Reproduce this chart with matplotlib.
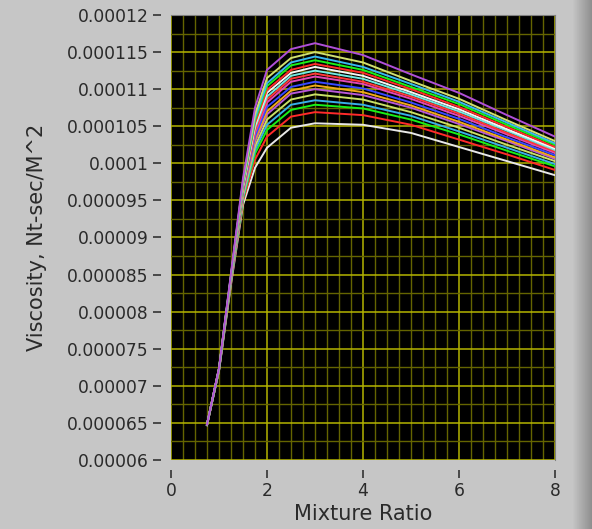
import numpy as np
import matplotlib
matplotlib.use("Agg")
import matplotlib.pyplot as plt
from matplotlib.ticker import MultipleLocator

# Mixture ratio sample points
mixture_ratio = [0.75, 1.0, 1.25, 1.5, 1.75, 2.0, 2.5, 3.0, 4.0, 5.0, 6.0, 7.0, 8.0]

# Viscosity curves, in units of 1e-5 Nt-sec/M^2 (bottom curve first)
visc_01 = [6.47, 7.20, 8.37, 9.44, 9.94, 10.21, 10.48, 10.54, 10.52, 10.41, 10.22, 10.03, 9.84]
visc_02 = [6.47, 7.21, 8.39, 9.49, 10.05, 10.36, 10.63, 10.69, 10.65, 10.52, 10.32, 10.12, 9.91]
visc_03 = [6.47, 7.21, 8.41, 9.52, 10.13, 10.45, 10.72, 10.79, 10.74, 10.59, 10.39, 10.17, 9.96]
visc_04 = [6.47, 7.21, 8.41, 9.54, 10.18, 10.52, 10.79, 10.85, 10.79, 10.64, 10.43, 10.21, 9.99]
visc_05 = [6.47, 7.21, 8.42, 9.57, 10.23, 10.59, 10.86, 10.93, 10.86, 10.69, 10.48, 10.25, 10.03]
visc_06 = [6.47, 7.22, 8.43, 9.60, 10.29, 10.66, 10.94, 11.00, 10.92, 10.75, 10.53, 10.30, 10.06]
visc_07 = [6.47, 7.22, 8.44, 9.61, 10.32, 10.70, 10.98, 11.05, 10.96, 10.78, 10.56, 10.32, 10.08]
visc_08 = [6.47, 7.22, 8.45, 9.63, 10.36, 10.76, 11.03, 11.10, 11.01, 10.82, 10.60, 10.35, 10.11]
visc_09 = [6.48, 7.22, 8.46, 9.65, 10.41, 10.82, 11.10, 11.17, 11.07, 10.87, 10.64, 10.39, 10.14]
visc_10 = [6.48, 7.22, 8.46, 9.66, 10.44, 10.86, 11.14, 11.21, 11.10, 10.90, 10.67, 10.41, 10.16]
visc_11 = [6.48, 7.23, 8.47, 9.68, 10.48, 10.90, 11.18, 11.25, 11.14, 10.93, 10.70, 10.44, 10.18]
visc_12 = [6.48, 7.23, 8.47, 9.69, 10.51, 10.95, 11.22, 11.30, 11.18, 10.96, 10.73, 10.46, 10.20]
visc_13 = [6.48, 7.23, 8.48, 9.71, 10.54, 10.99, 11.26, 11.34, 11.22, 11.00, 10.76, 10.49, 10.22]
visc_14 = [6.48, 7.23, 8.49, 9.72, 10.58, 11.04, 11.32, 11.39, 11.26, 11.03, 10.80, 10.52, 10.25]
visc_15 = [6.48, 7.23, 8.49, 9.74, 10.61, 11.08, 11.36, 11.44, 11.30, 11.07, 10.83, 10.55, 10.27]
visc_16 = [6.48, 7.24, 8.50, 9.76, 10.66, 11.15, 11.42, 11.50, 11.36, 11.11, 10.87, 10.58, 10.30]
visc_17 = [6.48, 7.24, 8.52, 9.80, 10.75, 11.26, 11.54, 11.62, 11.46, 11.20, 10.95, 10.65, 10.36]

curves = [visc_01, visc_02, visc_03, visc_04, visc_05, visc_06, visc_07, visc_08, visc_09,
          visc_10, visc_11, visc_12, visc_13, visc_14, visc_15, visc_16, visc_17]
colors = ["#e8e8e8", "#ff2a2a", "#18f018", "#38b0e8", "#c8e068", "#b858d8", "#f0a818",
          "#3848ff", "#e048b8", "#ff3838", "#70e8e0", "#f4f4f4", "#ff2a2a", "#18f018",
          "#38b8f0", "#d0e070", "#b050d8"]

bg = "#c6c6c6"
fig = plt.figure(figsize=(5.92, 5.29), dpi=100, facecolor=bg)
ax = fig.add_axes([171 / 592, 1 - 460 / 529, 384 / 592, 445 / 529])
ax.set_facecolor("black")

for vals, c in zip(curves, colors):
    ax.plot(mixture_ratio, np.array(vals) * 1e-5, color=c, lw=1.4, zorder=3)

ax.set_xlim(0, 8)
ax.set_ylim(0.00006, 0.00012)
ax.xaxis.set_major_locator(MultipleLocator(2))
ax.xaxis.set_minor_locator(MultipleLocator(0.25))
ax.yaxis.set_major_locator(MultipleLocator(0.000005))
ax.yaxis.set_minor_locator(MultipleLocator(0.0000025))

# y tick labels like the original, trailing zeros stripped
def fmt(v, pos):
    return ("%.6f" % v).rstrip("0")
ax.yaxis.set_major_formatter(plt.FuncFormatter(fmt))

ax.grid(which="major", color="#b4b400", lw=1.1)
ax.grid(which="minor", color="#646400", lw=1.0)
ax.set_axisbelow(True)

for side in ["left", "bottom"]:
    ax.spines[side].set_position(("outward", 7))
    ax.spines[side].set_visible(False)
for side in ["top", "right"]:
    ax.spines[side].set_color("#808080")
    ax.spines[side].set_linewidth(0.8)

ax.tick_params(which="minor", length=0)
ax.tick_params(which="major", length=6, width=1.2, color="#333333",
               labelsize=12.3, labelcolor="#2a2a2a", pad=3)

ax.set_xlabel("Mixture Ratio", fontsize=15, color="#2a2a2a", labelpad=3)
ax.set_ylabel("Viscosity, Nt-sec/M^2", fontsize=15, color="#2a2a2a", labelpad=14)

# darker window edge on the right
edge = fig.add_axes([572 / 592, 0, 20 / 592, 1])
grad = np.linspace(0.78, 0.56, 50).reshape(1, -1)
edge.imshow(grad, aspect="auto", cmap="gray", vmin=0, vmax=1, extent=[0, 1, 0, 1])
edge.axis("off")

fig.savefig("out.png", dpi=100, facecolor=bg)
